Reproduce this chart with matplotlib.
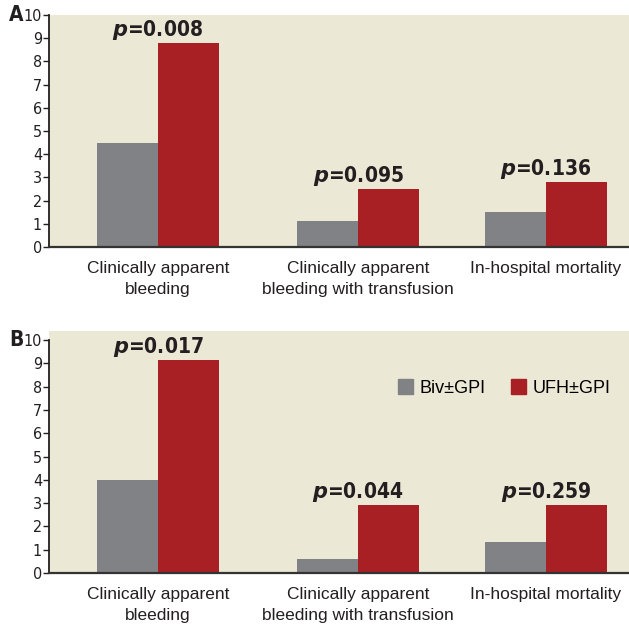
import matplotlib
matplotlib.use("Agg")
import matplotlib.pyplot as plt
from matplotlib.patches import Patch

# categories and values (% of patients)
categories = ["Clinically apparent\nbleeding",
              "Clinically apparent\nbleeding with transfusion",
              "In-hospital mortality"]
xpos = [0, 1, 1.94]

biv_a = [4.5, 1.1, 1.5]
ufh_a = [8.8, 2.5, 2.8]
p_a = ["0.008", "0.095", "0.136"]

biv_b = [4.0, 0.6, 1.35]
ufh_b = [9.15, 2.9, 2.9]
p_b = ["0.017", "0.044", "0.259"]

series_names = ["Biv\u00b1GPI", "UFH\u00b1GPI"]

GRAY = "#818286"
RED = "#a81f24"
BEIGE = "#ece8d6"
narrow = ["Liberation Sans Narrow", "DejaVu Sans"]
regular = ["Liberation Sans", "DejaVu Sans"]
INK = "#231f20"

fig = plt.figure(figsize=(6.29, 6.25), dpi=100)
ax_a = fig.add_axes([0.0779, 0.6048, 0.9221, 0.3712])
ax_b = fig.add_axes([0.0779, 0.0832, 0.9221, 0.3872])

w = 0.305


def draw(ax, biv, ufh, pvals, ytop, letter):
    ax.set_facecolor(BEIGE)
    left = [x - w / 2 for x in xpos]
    right = [x + w / 2 for x in xpos]
    ax.bar(left, biv, width=w, color=GRAY, linewidth=0)
    ax.bar(right, ufh, width=w, color=RED, linewidth=0)
    for x, b, u, p in zip(xpos, biv, ufh, pvals):
        ax.text(x, max(b, u) + 0.3, r"$\mathbfit{p}$=" + p,
                ha="center", va="baseline", fontsize=15,
                fontweight="bold", family=narrow, stretch="condensed",
                color=INK)
    ax.set_xlim(-0.545, 2.355)
    ax.set_ylim(0, ytop)
    ax.set_yticks(range(0, 11))
    ax.set_yticklabels([str(i) for i in range(0, 11)], family=narrow,
                       stretch="condensed", fontsize=11.5, color=INK)
    ax.tick_params(axis="y", length=4, width=1, pad=1, color=INK)
    ax.set_xticks(xpos)
    ax.set_xticklabels(categories, family=regular, fontsize=12.5,
                       color=INK, linespacing=1.55)
    ax.tick_params(axis="x", length=0, pad=10)
    for s in ["top", "right"]:
        ax.spines[s].set_visible(False)
    ax.spines["left"].set_bounds(0, 10)
    ax.spines["left"].set_linewidth(1.3)
    ax.spines["bottom"].set_linewidth(1.6)
    ax.spines["left"].set_color(INK)
    ax.spines["bottom"].set_color("#333333")
    pos = ax.get_position()
    fig.text(0.014, pos.y0 + pos.height * 10 / ytop, letter,
             fontsize=15, fontweight="bold", family=narrow,
             stretch="condensed", va="center", ha="left", color=INK)


draw(ax_a, biv_a, ufh_a, p_a, 10, "A")
draw(ax_b, biv_b, ufh_b, p_b, 10.39, "B")

handles = [Patch(color=GRAY), Patch(color=RED)]
ax_b.legend(handles, series_names, loc="center", bbox_to_anchor=(0.785, 0.765),
            ncol=2, frameon=False, prop={"family": regular, "size": 13},
            handlelength=0.85, handleheight=0.85, handletextpad=0.35,
            columnspacing=1.4)

fig.savefig("out.png", dpi=100)
